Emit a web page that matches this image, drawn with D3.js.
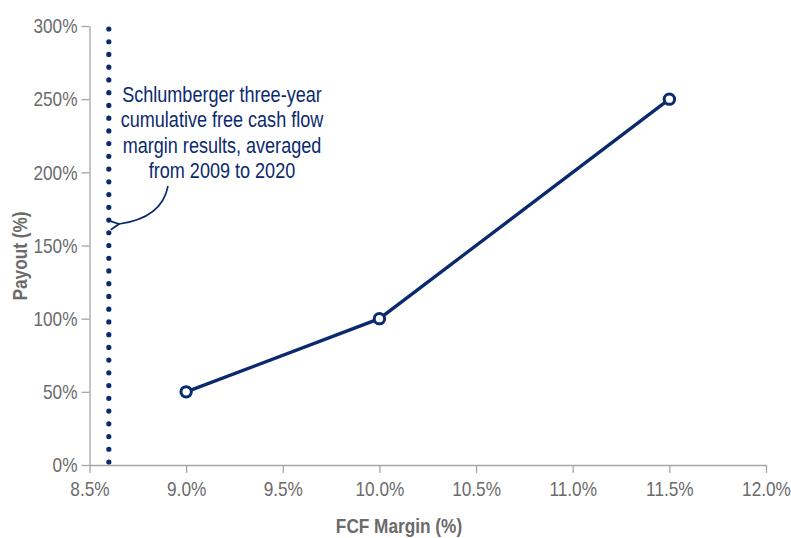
<!DOCTYPE html>
<html>
<head>
<meta charset="utf-8">
<script src="https://cdn.jsdelivr.net/npm/d3@7"></script>
<style>
  body { margin: 0; background: #fff; }
  svg { font-family: "Liberation Sans", Arial, sans-serif; }
</style>
</head>
<body>
<svg id="chart"></svg>
<script>
// data
const fcfMargin = [9.0, 10.0, 11.5];
const payout = [50, 100, 250];
const averageMargin = 8.6;
const xTicks = [8.5, 9.0, 9.5, 10.0, 10.5, 11.0, 11.5, 12.0];
const yTicks = [0, 50, 100, 150, 200, 250, 300];
const noteLines = ["Schlumberger three-year", "cumulative free cash flow", "margin results, averaged", "from 2009 to 2020"];

const W = 791, H = 538;
const margin = { top: 26, right: 25, bottom: 73, left: 89.5 };
const navy = "#0b2a6e", grey = "#6b6b6b";
const narrow = 0.82; // no narrow font installed, squeeze the glyphs instead

const svg = d3.select("#chart").attr("width", W).attr("height", H);

function squeeze(sel) {
    sel.each(function () {
        const w = this.getComputedTextLength();
        d3.select(this).attr("textLength", w * narrow).attr("lengthAdjust", "spacingAndGlyphs");
    });
}

const x = d3.scaleLinear().domain([8.5, 12.0]).range([margin.left, W - margin.right]);
const y = d3.scaleLinear().domain([0, 300]).range([H - margin.bottom, margin.top]);

// axes
const xAxis = svg.append("g")
    .attr("transform", `translate(0,${y(0)})`)
    .call(d3.axisBottom(x).tickValues(xTicks).tickFormat(d => d.toFixed(1) + "%").tickSize(8).tickSizeOuter(0).tickPadding(8));
const yAxis = svg.append("g")
    .attr("transform", `translate(${x(8.5)},0)`)
    .call(d3.axisLeft(y).tickValues(yTicks).tickFormat(d => d + "%").tickSize(8).tickSizeOuter(0).tickPadding(4));

[xAxis, yAxis].forEach(g => {
    g.selectAll("path, line").attr("stroke", "#a6a6a6").attr("stroke-width", 1.3);
    g.selectAll("text").attr("fill", grey).style("font-size", "21px").style("font-family", null);
    squeeze(g.selectAll("text"));
});

// axis titles
svg.append("text")
    .attr("x", 399).attr("y", 533)
    .attr("text-anchor", "middle")
    .attr("fill", grey).attr("font-weight", "bold").style("font-size", "21px")
    .text("FCF Margin (%)")
    .call(squeeze);
svg.append("text")
    .attr("transform", `translate(27,256) rotate(-90)`)
    .attr("text-anchor", "middle")
    .attr("fill", grey).attr("font-weight", "bold").style("font-size", "21px")
    .text("Payout (%)")
    .call(squeeze);

// dotted average line, 35 dots from bottom to top
const dotTop = y(300) + 3, dotBottom = y(0) - 3;
const gap = (dotBottom - dotTop) / 34;
svg.append("line")
    .attr("x1", x(averageMargin)).attr("x2", x(averageMargin))
    .attr("y1", dotBottom).attr("y2", dotTop - 1)
    .attr("stroke", navy).attr("stroke-width", 5.2)
    .attr("stroke-linecap", "round")
    .attr("stroke-dasharray", `0 ${gap}`);

// data line
const pts = fcfMargin.map((d, i) => [d, payout[i]]);
svg.append("path")
    .datum(pts)
    .attr("fill", "none")
    .attr("stroke", navy).attr("stroke-width", 3.3)
    .attr("d", d3.line().x(d => x(d[0])).y(d => y(d[1])));

svg.selectAll("circle.pt")
    .data(pts)
    .join("circle")
    .attr("class", "pt")
    .attr("cx", d => x(d[0])).attr("cy", d => y(d[1]))
    .attr("r", 5.2)
    .attr("fill", "#fff").attr("stroke", navy).attr("stroke-width", 3);

// annotation
svg.selectAll("text.note")
    .data(noteLines)
    .join("text")
    .attr("class", "note")
    .attr("x", 222)
    .attr("y", (d, i) => 101.5 + i * 25.5)
    .attr("text-anchor", "middle")
    .attr("fill", navy).style("font-size", "22px")
    .text(d => d)
    .call(squeeze);

svg.append("defs").append("marker")
    .attr("id", "arrow")
    .attr("viewBox", "0 0 10 10")
    .attr("refX", 1).attr("refY", 5)
    .attr("markerWidth", 7).attr("markerHeight", 7)
    .attr("orient", "auto")
    .append("path")
    .attr("d", "M9,1 L1,5 L9,9")
    .attr("fill", "none").attr("stroke", navy).attr("stroke-width", 1.6);

svg.append("path")
    .attr("d", "M168,186 Q162,218 119,224")
    .attr("fill", "none").attr("stroke", navy).attr("stroke-width", 1.6)
    .attr("marker-end", "url(#arrow)");
</script>
</body>
</html>
